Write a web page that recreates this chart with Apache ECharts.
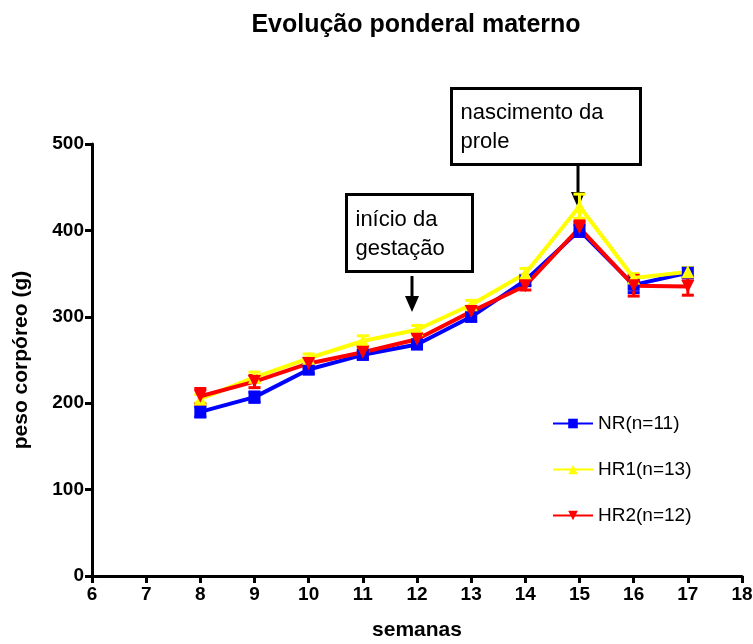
<!DOCTYPE html>
<html>
<head>
<meta charset="utf-8">
<script src="https://cdn.jsdelivr.net/npm/echarts@6/dist/echarts.min.js"></script>
<style>
  html, body { margin: 0; padding: 0; background: #fff; }
  #chart { width: 753px; height: 644px; }
</style>
</head>
<body>
<div id="chart"></div>
<script>
  // semanas
  var weeks = [8, 9, 10, 11, 12, 13, 14, 15, 16, 17];
  // peso médio (g) e erro
  var nrMean  = [190, 207, 239, 256, 268, 300, 342, 400, 337, 351];
  var nrErr   = [6, 6, 5, 5, 5, 5, 6, 7, 9, 6];
  var hr1Mean = [205, 230, 252, 272, 285, 314, 350, 428, 345, 352];
  var hr1Err  = [5, 6, 5, 6, 5, 5, 6, 14, 5, 5];
  var hr2Mean = [208, 225, 246, 259, 274, 306, 336, 403, 336, 335];
  var hr2Err  = [9, 7, 6, 6, 6, 6, 5, 8, 12, 10];

  var seriesNames = ['NR(n=11)', 'HR1(n=13)', 'HR2(n=12)'];
  var colors = ['#0000ff', '#ffff00', '#ff0000'];

  var chart = echarts.init(document.getElementById('chart'));

  function pairs(mean) {
    return weeks.map(function (w, i) { return [w, mean[i]]; });
  }

  /*barras de erro*/
  function errorSeries(mean, err, color) {
    var data = weeks.map(function (w, i) { return [w, mean[i] - err[i], mean[i] + err[i]]; });
    return {
      type: 'custom',
      silent: true,
      z: 3,
      data: data,
      renderItem: function (params, api) {
        var lo = api.coord([api.value(0), api.value(1)]);
        var hi = api.coord([api.value(0), api.value(2)]);
        var hw = 6;
        var style = { stroke: color, lineWidth: 3 };
        return {
          type: 'group',
          children: [
            { type: 'line', shape: { x1: lo[0], y1: lo[1], x2: hi[0], y2: hi[1] }, style: style },
            { type: 'line', shape: { x1: lo[0] - hw, y1: lo[1], x2: lo[0] + hw, y2: lo[1] }, style: style },
            { type: 'line', shape: { x1: hi[0] - hw, y1: hi[1], x2: hi[0] + hw, y2: hi[1] }, style: style }
          ]
        };
      }
    };
  }

  function lineSeries(name, mean, color, symbol, rotate, size) {
    return {
      name: name,
      type: 'line',
      data: pairs(mean),
      symbol: symbol,
      symbolSize: size,
      symbolRotate: rotate,
      z: 4,
      lineStyle: { color: color, width: 4 },
      itemStyle: { color: color, borderWidth: 0 }
    };
  }

  var font = 'Liberation Sans, Arial, sans-serif';

  chart.setOption({
    animation: false,
    title: {
      text: 'Evolução ponderal materno',
      left: 411,
      textAlign: 'center',
      top: 8,
      textStyle: { fontFamily: font, fontSize: 25, fontWeight: 'bold', color: '#000' }
    },
    grid: { left: 92, right: 11, top: 144, bottom: 68, outerBoundsMode: 'none', containLabel: false },
    legend: {
      orient: 'vertical',
      left: 547,
      top: 409,
      itemGap: 27,
      itemWidth: 40,
      itemHeight: 12,
      data: seriesNames,
      textStyle: { fontFamily: font, fontSize: 19, color: '#000' }
    },
    xAxis: {
      type: 'value',
      min: 6,
      max: 18,
      interval: 1,
      name: 'semanas',
      nameLocation: 'middle',
      nameGap: 44,
      nameTextStyle: { fontFamily: font, fontSize: 21, fontWeight: 'bold', color: '#000' },
      splitLine: { show: false },
      axisLine: { onZero: false, lineStyle: { color: '#000', width: 3 } },
      axisTick: { length: 7, lineStyle: { color: '#000', width: 3 } },
      axisLabel: { fontFamily: font, fontSize: 19, fontWeight: 'bold', color: '#000', margin: 9 }
    },
    yAxis: {
      type: 'value',
      min: 0,
      max: 500,
      interval: 100,
      name: 'peso corpóreo (g)',
      nameLocation: 'middle',
      nameGap: 60,
      nameTextStyle: { fontFamily: font, fontSize: 21, fontWeight: 'bold', color: '#000' },
      splitLine: { show: false },
      axisLine: { show: true, onZero: false, lineStyle: { color: '#000', width: 3 } },
      axisTick: { show: true, length: 7, lineStyle: { color: '#000', width: 3 } },
      axisLabel: { fontFamily: font, fontSize: 19, fontWeight: 'bold', color: '#000', margin: 8 }
    },
    graphic: [
      {
        type: 'group', left: 345, top: 193,
        children: [
          { type: 'rect', shape: { x: 0, y: 0, width: 126, height: 77 }, style: { fill: '#fff', stroke: '#000', lineWidth: 3 } },
          { type: 'text', x: 9, y: 11, style: { text: 'início da\ngestação', font: '22px ' + font, fill: '#000', lineHeight: 29 } }
        ]
      },
      { type: 'line', shape: { x1: 412, y1: 276, x2: 412, y2: 300 }, style: { stroke: '#000', lineWidth: 3 } },
      { type: 'polygon', shape: { points: [[405, 296], [419, 296], [412, 312]] }, style: { fill: '#000' } },
      {
        type: 'group', left: 450, top: 87,
        children: [
          { type: 'rect', shape: { x: 0, y: 0, width: 189, height: 76 }, style: { fill: '#fff', stroke: '#000', lineWidth: 3 } },
          { type: 'text', x: 9, y: 10, style: { text: 'nascimento da\nprole', font: '22px ' + font, fill: '#000', lineHeight: 29 } }
        ]
      },
      { type: 'line', shape: { x1: 578, y1: 163, x2: 578, y2: 196 }, style: { stroke: '#000', lineWidth: 3 } },
      { type: 'polygon', shape: { points: [[571, 192], [585, 192], [578, 208]] }, style: { fill: '#000' } }
    ],
    series: [
      errorSeries(nrMean, nrErr, colors[0]),
      lineSeries(seriesNames[0], nrMean, colors[0], 'rect', 0, 12),
      errorSeries(hr1Mean, hr1Err, colors[1]),
      lineSeries(seriesNames[1], hr1Mean, colors[1], 'triangle', 0, 13),
      errorSeries(hr2Mean, hr2Err, colors[2]),
      lineSeries(seriesNames[2], hr2Mean, colors[2], 'triangle', 180, 13)
    ]
  });
</script>
</body>
</html>
